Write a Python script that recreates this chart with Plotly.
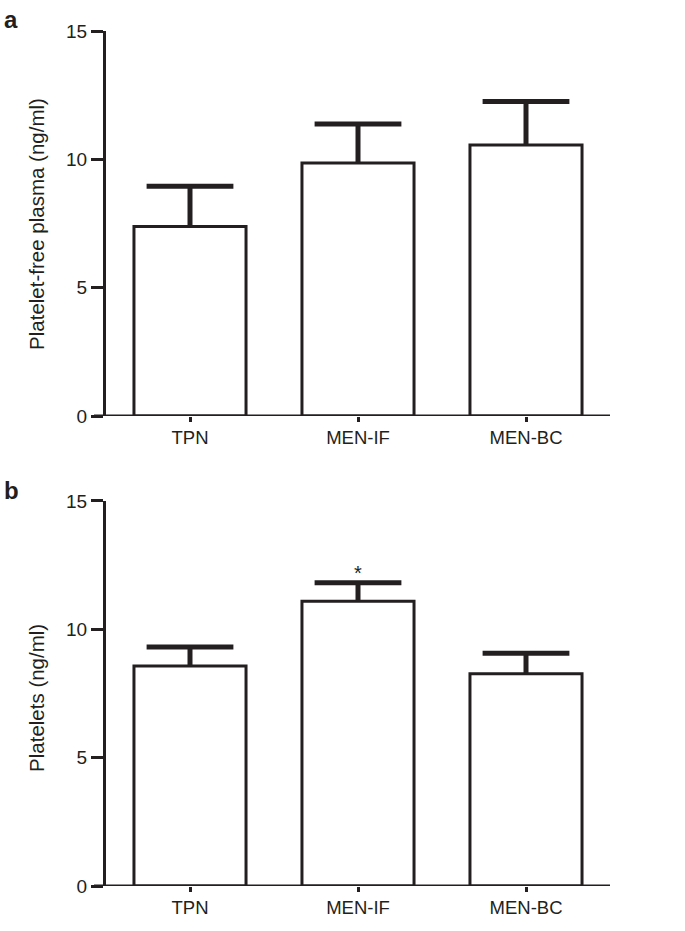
import plotly.graph_objects as go

categories = ["TPN", "MEN-IF", "MEN-BC"]
pfp_mean = [7.38, 9.86, 10.56]
pfp_sem = [1.57, 1.52, 1.69]
plt_mean = [8.57, 11.09, 8.27]
plt_sem = [0.74, 0.72, 0.80]
y_ticks = [0, 5, 10, 15]
sig_marks = ["", "*", ""]

INK = "#231f20"
FONT = "Liberation Sans, Arial, Helvetica, sans-serif"

fig = go.Figure()

def add_panel(means, sems, xa, ya):
    fig.add_trace(go.Bar(
        x=categories, y=means, width=0.667,
        marker=dict(color="white", line=dict(color=INK, width=3)),
        error_y=dict(type="data", symmetric=False, array=sems,
                     arrayminus=[0] * len(sems), thickness=5, width=0, color=INK),
        xaxis=xa, yaxis=ya, showlegend=False, hoverinfo="skip"))
    tops = [m + s for m, s in zip(means, sems)]
    fig.add_trace(go.Scatter(
        x=categories, y=tops, mode="markers",
        marker=dict(symbol="line-ew", size=62, line=dict(color=INK, width=5)),
        xaxis=xa, yaxis=ya, showlegend=False, hoverinfo="skip"))
    return tops

add_panel(pfp_mean, pfp_sem, "x", "y")
tops_b = add_panel(plt_mean, plt_sem, "x2", "y2")

# significance marker
fig.add_trace(go.Scatter(
    x=categories, y=[t + 0.32 for t in tops_b], mode="text", text=sig_marks,
    textfont=dict(size=20, color=INK, family=FONT), textposition="middle center",
    xaxis="x2", yaxis="y2", showlegend=False, hoverinfo="skip"))

xcommon = dict(type="category", range=[-0.5, 2.5], showline=False, showgrid=False,
               zeroline=False, ticks="outside", ticklen=5, tickwidth=3, tickcolor=INK,
               tickfont=dict(size=18.5, color=INK, family=FONT), fixedrange=True)
ycommon = dict(range=[0, 15], tickvals=y_ticks, showline=True, linewidth=3, linecolor=INK,
               showgrid=False, zeroline=False, ticks="outside", ticklen=12, tickwidth=3,
               tickcolor=INK, tickfont=dict(size=19, color=INK, family=FONT))

fig.update_layout(
    width=685, height=931,
    margin=dict(l=106, r=75, t=31, b=45),
    plot_bgcolor="white", paper_bgcolor="white",
    xaxis=dict(domain=[0, 1], anchor="y", **xcommon),
    yaxis=dict(domain=[0.5497, 1], anchor="x", **ycommon),
    xaxis2=dict(domain=[0, 1], anchor="y2", **xcommon),
    yaxis2=dict(domain=[0, 0.4503], anchor="x2", **ycommon),
    bargap=0.333,
)

# x-axis baselines extending slightly left of the y axis
for xr, yr in (("x domain", "y"), ("x2 domain", "y2")):
    fig.add_shape(type="line", xref=xr, yref=yr, x0=-12 / 504, x1=1, y0=0, y1=0,
                  line=dict(color=INK, width=3))

fig.add_annotation(text="Platelet-free plasma (ng/ml)", xref="paper", yref="paper",
                   x=-0.137, y=0.7743, textangle=-90, showarrow=False,
                   xanchor="center", yanchor="middle",
                   font=dict(size=20.5, color=INK, family=FONT))
fig.add_annotation(text="Platelets (ng/ml)", xref="paper", yref="paper",
                   x=-0.137, y=0.2199, textangle=-90, showarrow=False,
                   xanchor="center", yanchor="middle",
                   font=dict(size=20.5, color=INK, family=FONT))
fig.add_annotation(text="<b>a</b>", xref="paper", yref="paper", x=-0.188, y=1.013,
                   showarrow=False, xanchor="center", yanchor="middle",
                   font=dict(size=24, color=INK, family=FONT))
fig.add_annotation(text="<b>b</b>", xref="paper", yref="paper", x=-0.188, y=0.463,
                   showarrow=False, xanchor="center", yanchor="middle",
                   font=dict(size=24, color=INK, family=FONT))

fig.write_html("out.html", config={"displayModeBar": False},
               post_script="document.body.style.margin='0';")
